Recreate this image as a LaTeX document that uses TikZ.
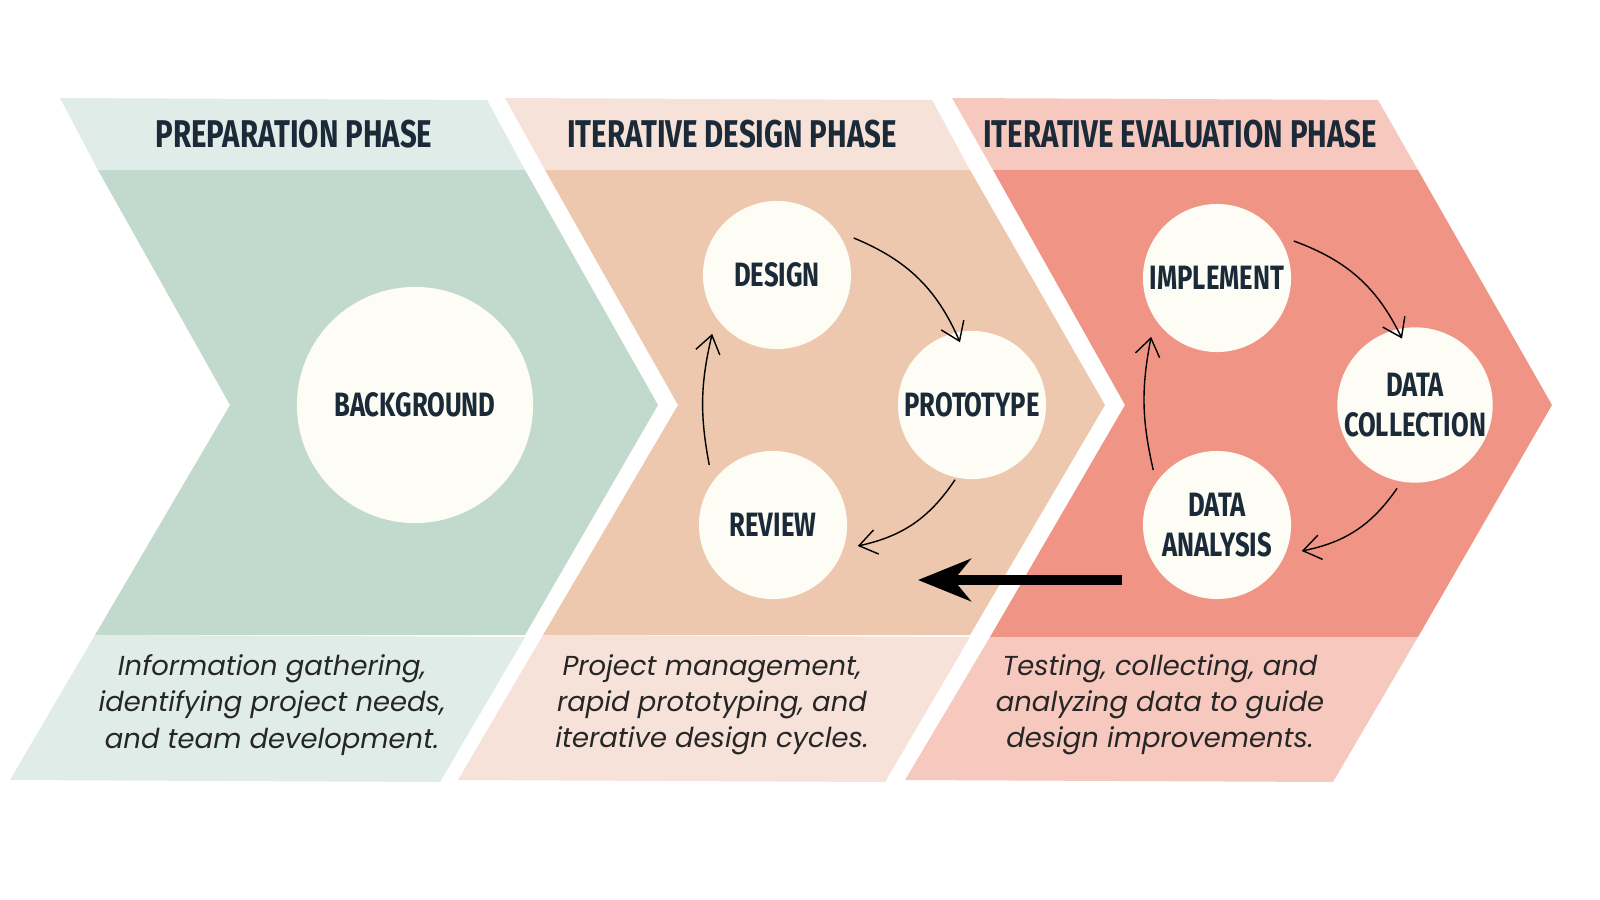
\documentclass[tikz,border=0pt]{standalone}
\usepackage{fontspec}
\setmainfont{Poppins}
\newfontfamily\headfont[FakeStretch=0.76]{Fira Sans}
\usepackage{tikz}
\usetikzlibrary{arrows.meta,calc}

\definecolor{inkblue}{HTML}{1B2A38}
\definecolor{greenmain}{HTML}{C2DACE}
\definecolor{greenlight}{HTML}{E0ECE7}
\definecolor{peachmain}{HTML}{EDC8AE}
\definecolor{peachlight}{HTML}{F6E2D8}
\definecolor{redmain}{HTML}{F09585}
\definecolor{redlight}{HTML}{F7C9BE}
\definecolor{cream}{HTML}{FDFDF5}

\tikzset{
  phasetitle/.style={font=\headfont\bfseries\fontsize{11}{12}\selectfont, text=inkblue},
  stepcircle/.style={circle, fill=cream, inner sep=0pt, align=center,
    font=\headfont\bfseries\fontsize{9.6}{11.5}\selectfont, text=inkblue},
  desc/.style={align=center, font=\itshape\fontsize{7.8}{10.3}\selectfont, text=black!85},
  cyclearrow/.style={-{Straight Barb[length=5pt,width=7pt]}, thin, black}
}

\begin{document}
\begin{tikzpicture}[x=0.01cm, y=-0.01cm]
\fill[white] (0,0) rectangle (1600,900);

% preparation phase
\fill[greenlight] (60,98) -- (487,100) -- (525,170) -- (98,170) -- cycle;
\fill[greenmain] (98,170) -- (525,170) -- (658,405) -- (525,635) -- (95,635) -- (230,405) -- cycle;
\fill[greenlight] (95,635) -- (525,637) -- (440,782) -- (10,780) -- cycle;

% iterative design phase
\fill[peachlight] (505,98) -- (932,100) -- (970,170) -- (545,170) -- cycle;
\fill[peachmain] (545,170) -- (970,170) -- (1105,405) -- (970,635) -- (543,635) -- (678,405) -- cycle;
\fill[peachlight] (543,635) -- (970,637) -- (885,782) -- (458,780) -- cycle;

% iterative evaluation phase
\fill[redlight] (952,98) -- (1378,100) -- (1418,170) -- (993,170) -- cycle;
\fill[redmain] (993,170) -- (1418,170) -- (1552,405) -- (1418,637) -- (990,637) -- (1125,405) -- cycle;
\fill[redlight] (990,637) -- (1418,637) -- (1333,782) -- (905,780) -- cycle;

\node[phasetitle] (prep) at (294,134) {PREPARATION PHASE};
\node[phasetitle] (idp) at (732,134) {ITERATIVE DESIGN PHASE};
\node[phasetitle] (iep) at (1180,134) {ITERATIVE EVALUATION PHASE};

\node[stepcircle, minimum size=2.36cm] (background) at (415,405) {BACKGROUND};
\node[stepcircle, minimum size=1.48cm] (design) at (777,275) {DESIGN};
\node[stepcircle, minimum size=1.48cm] (prototype) at (972,405) {PROTOTYPE};
\node[stepcircle, minimum size=1.48cm] (review) at (773,525) {REVIEW};
\node[stepcircle, minimum size=1.48cm] (implement) at (1217,278) {IMPLEMENT};
\node[stepcircle, minimum size=1.48cm] (collection) at (1415,405) {DATA\\COLLECTION};
\node[stepcircle, minimum size=1.48cm] (analysis) at (1217,525) {DATA\\ANALYSIS};

\draw[cyclearrow] ($(design.east)+(2,-37)$) to[bend left=22] ($(prototype.north)+(-12,12)$);
\draw[cyclearrow] ($(prototype.south)+(-17,0)$) to[bend left=22] ($(review.east)+(10,21)$);
\draw[cyclearrow] ($(review.west)+(11,-60)$) to[bend left=12] ($(design.south west)+(-12,6)$);
\draw[cyclearrow] ($(implement.east)+(2,-37)$) to[bend left=22] ($(collection.north)+(-13,12)$);
\draw[cyclearrow] ($(collection.south)+(-18,5)$) to[bend left=22] ($(analysis.east)+(10,26)$);
\draw[cyclearrow] ($(analysis.west)+(11,-55)$) to[bend left=12] ($(implement.south west)+(-13,6)$);

\coordinate (feedback) at (1122,580);
\coordinate (feedbackend) at (918,580);
\draw[line width=2.6pt, -{Stealth[length=15pt,width=12pt]}] (feedback) -- (feedbackend);

\node[desc] (prepdesc) at (272,705) {Information gathering,\\identifying project needs,\\and team development.};
\node[desc] (idpdesc) at (712,705) {Project management,\\rapid prototyping, and\\iterative design cycles.};
\node[desc] (iepdesc) at (1160,705) {Testing, collecting, and\\analyzing data to guide\\design improvements.};

\pgfresetboundingbox
\useasboundingbox (0,0) rectangle (1600,900);
\end{tikzpicture}
\end{document}
